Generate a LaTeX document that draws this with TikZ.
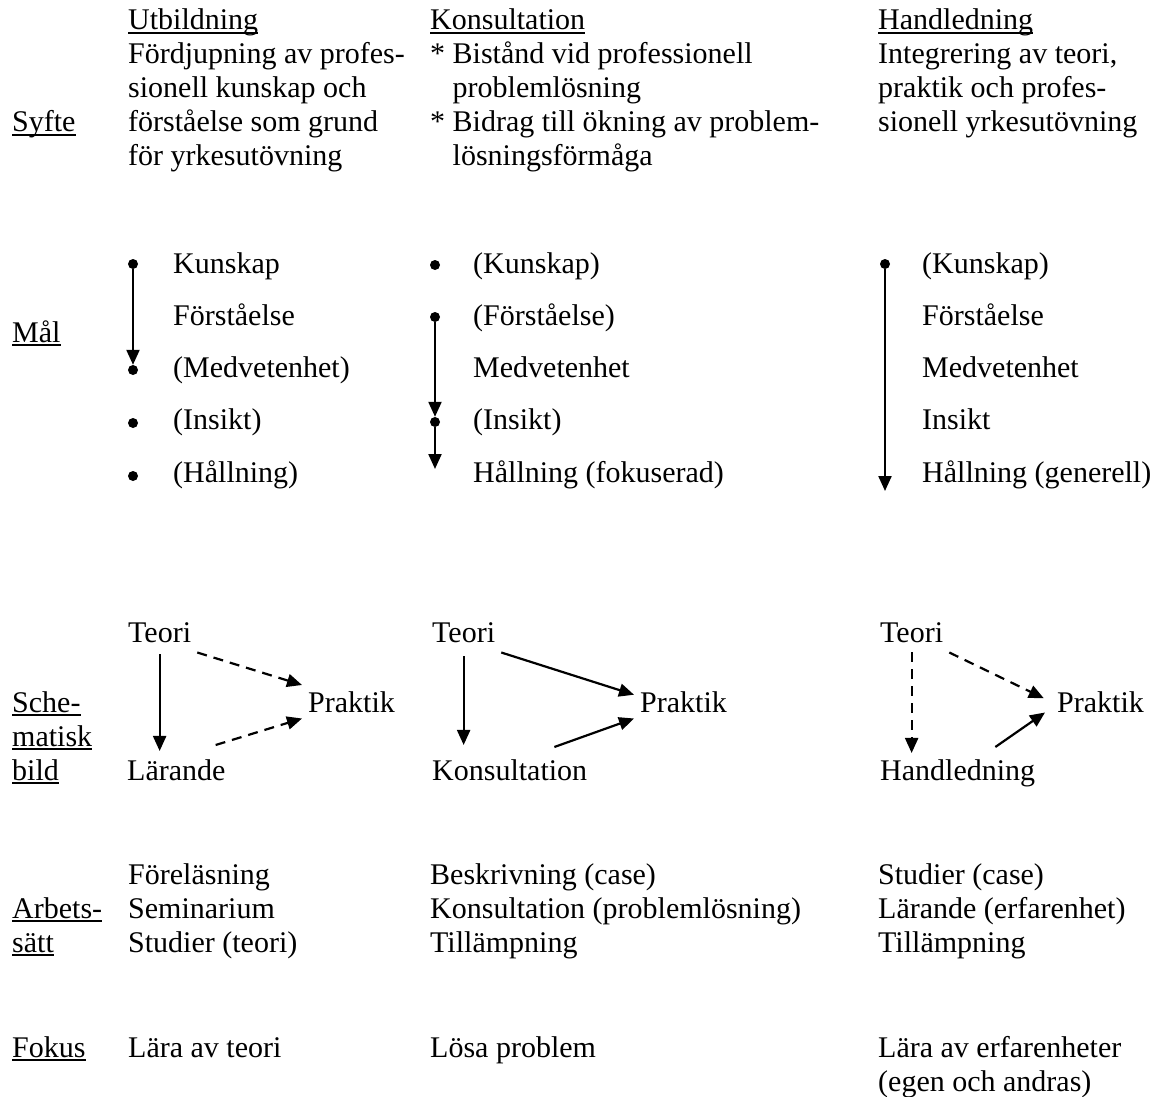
\documentclass[tikz,border=0pt]{standalone}
\usepackage{fontspec}
\setmainfont{Liberation Serif}
\usetikzlibrary{positioning,arrows.meta}
\newcommand{\ulword}[1]{\setbox0=\hbox{#1}\rlap{\rule[-4pt]{\wd0}{2pt}}\box0}

\begin{document}
\begin{tikzpicture}[x=1pt,y=-1pt,font=\fontsize{30}{34}\selectfont,
txt/.style={anchor=base west, inner sep=0pt, align=left},
box/.style={anchor=base west, inner sep=6pt},
dot/.style={circle, fill, inner sep=0pt, minimum size=10pt},
arr/.style={-{Triangle[length=15pt,width=13pt]}, line width=2.2pt},
dsh/.style={arr, dash pattern=on 10pt off 7pt}]
\useasboundingbox (0,0) rectangle (1160,1097);

% row labels (multi-line nodes sit on their last line)
\node[txt] (syfte) at (12,132) {\ulword{Syfte}};
\node[txt] (mal) at (12,342) {\ulword{Mål}};
\node[txt] (schema) at (12,780) {\ulword{Sche-}\\\ulword{matisk}\\\ulword{bild}};
\node[txt] (arbete) at (12,952) {\ulword{Arbets-}\\\ulword{sätt}};
\node[txt] (fokus) at (12,1057) {\ulword{Fokus}};

% syfte
\node[txt] (utb) at (128,166) {\ulword{Utbildning}\\Fördjupning av profes-\\sionell kunskap och\\förståelse som grund\\för yrkesutövning};
\node[txt] (kons) at (430,166) {\ulword{Konsultation}\\{}* Bistånd vid professionell\\\hphantom{* }problemlösning\\{}* Bidrag till ökning av problem-\\\hphantom{* }lösningsförmåga};
\node[txt] (handl) at (878,132) {\ulword{Handledning}\\Integrering av teori,\\praktik och profes-\\sionell yrkesutövning};

% mal
\foreach \t [count=\i] in {Kunskap, Förståelse, (Medvetenhet), (Insikt), (Hållning)}
  \node[txt] (u\i) at (173,{220.7+52.3*\i}) {\t};
\foreach \t [count=\i] in {(Kunskap), (Förståelse), Medvetenhet, (Insikt), Hållning (fokuserad)}
  \node[txt] (k\i) at (473,{220.7+52.3*\i}) {\t};
\foreach \t [count=\i] in {(Kunskap), Förståelse, Medvetenhet, Insikt, Hållning (generell)}
  \node[txt] (h\i) at (922,{220.7+52.3*\i}) {\t};

\node[dot] (ud1) at (133,264) {};
\node[dot] (ud3) at (133,370) {};
\node[dot] (ud4) at (133,423) {};
\node[dot] (ud5) at (133,476) {};
\draw[arr] (ud1) -- (ud3);

\node[dot] (kd1) at (435,265) {};
\node[dot] (kd2) at (435,317) {};
\node[dot] (kd4) at (435,422) {};
\coordinate (kend) at (435,469);
\draw[arr] (kd2) -- (kd4);
\draw[arr] (kd4) -- (kend);

\node[dot] (hd1) at (885,264) {};
\coordinate (hend) at (885,491);
\draw[arr] (hd1) -- (hend);

% schematisk bild
\node[box] (t1) at (122,642) {Teori};
\node[box] (p1) at (302,712) {Praktik};
\node[box] (l1) at (121,780) {Lärande};
\draw[arr, shorten <=6pt, shorten >=2pt] (t1.south) -- (t1.south |- l1.north);
\draw[dsh] ([yshift=-4pt]t1.south east) -- (p1.north west);
\draw[dsh] ([shift={(-16,-8)}]l1.north east) -- (p1.south west);

\node[box] (t2) at (426,642) {Teori};
\node[box] (p2) at (634,712) {Praktik};
\node[box] (k2) at (426,780) {Konsultation};
\draw[arr, shorten <=8pt, shorten >=8pt] (t2.south) -- (t2.south |- k2.north);
\draw[arr] ([yshift=-4pt]t2.south east) -- ([yshift=7pt]p2.west);
\draw[arr] ([shift={(-39,-6)}]k2.north east) -- (p2.south west);

\node[box] (t3) at (874,642) {Teori};
\node[box] (p3) at (1051,712) {Praktik};
\node[box] (h3) at (874,780) {Handledning};
\draw[dsh, shorten <=4pt] (t3.south) -- (t3.south |- h3.north);
\draw[dsh, shorten >=8pt] ([yshift=-4pt]t3.south east) -- (p3.west);
\draw[arr] ([shift={(-46,-6)}]h3.north east) -- ([shift={(-6,-6)}]p3.south west);

% arbetssatt
\node[txt] (a1) at (128,952) {Föreläsning\\Seminarium\\Studier (teori)};
\node[txt] (a2) at (430,952) {Beskrivning (case)\\Konsultation (problemlösning)\\Tillämpning};
\node[txt] (a3) at (878,952) {Studier (case)\\Lärande (erfarenhet)\\Tillämpning};

% fokus
\node[txt] (f1) at (128,1057) {Lära av teori};
\node[txt] (f2) at (430,1057) {Lösa problem};
\node[txt] (f3) at (878,1091) {Lära av erfarenheter\\(egen och andras)};
\end{tikzpicture}
\end{document}
